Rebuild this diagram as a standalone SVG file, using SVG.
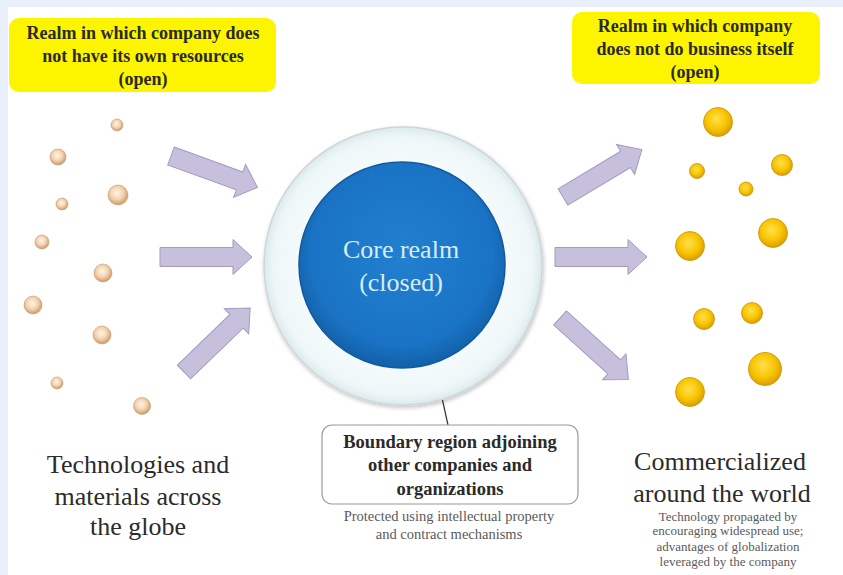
<svg xmlns="http://www.w3.org/2000/svg" width="843" height="575" viewBox="0 0 843 575">
  <style>
    .ylab { font-family: "Liberation Serif", "DejaVu Serif", serif; font-weight: bold; font-size: 18px; fill: #2a2a2a; text-anchor: middle; }
    .big { font-family: "Liberation Serif", "DejaVu Serif", serif; font-size: 26px; fill: #2b2b2b; text-anchor: middle; }
    .small { font-family: "Liberation Serif", "DejaVu Serif", serif; font-size: 14.5px; fill: #5a5a5a; text-anchor: middle; }
    .tiny { font-family: "Liberation Serif", "DejaVu Serif", serif; font-size: 13px; fill: #5a5a5a; text-anchor: middle; }
    .bnd { font-family: "Liberation Serif", "DejaVu Serif", serif; font-weight: bold; font-size: 18.5px; fill: #2a2a2a; text-anchor: middle; }
    .core { font-family: "Liberation Serif", "DejaVu Serif", serif; font-size: 26px; fill: #d8ecf8; text-anchor: middle; }
    .arrow { fill: #c6c0dd; stroke: #a29bc2; stroke-width: 1; }
    .ybox { fill: #fdf500; }
    .bead { fill: url(#gBeige); stroke: #c49a72; stroke-width: 0.6; }
    .gold { fill: url(#gGold); stroke: #c99400; stroke-width: 0.8; }
  </style>
  <defs>
    <path id="arr" d="M0,-9.5 H73 V-17.5 L92,0 L73,17.5 V9.5 H0 Z"/>
    <radialGradient id="gBeige" cx="0.45" cy="0.4" r="0.6">
      <stop offset="0" stop-color="#fff6ea"/>
      <stop offset="0.55" stop-color="#f3d2ad"/>
      <stop offset="1" stop-color="#c9986b"/>
    </radialGradient>
    <radialGradient id="gGold" cx="0.45" cy="0.4" r="0.6">
      <stop offset="0" stop-color="#ffe04a"/>
      <stop offset="0.6" stop-color="#f8c400"/>
      <stop offset="1" stop-color="#d99e00"/>
    </radialGradient>
    <radialGradient id="gRing" cx="0.5" cy="0.5" r="0.5">
      <stop offset="0.7" stop-color="#f6fbfc"/>
      <stop offset="0.93" stop-color="#eef7f8"/>
      <stop offset="1" stop-color="#dbeaec"/>
    </radialGradient>
    <radialGradient id="gCore" cx="0.5" cy="0.45" r="0.55">
      <stop offset="0" stop-color="#2180cf"/>
      <stop offset="0.8" stop-color="#1a73c4"/>
      <stop offset="1" stop-color="#1260a8"/>
    </radialGradient>
    <filter id="sh" x="-10%" y="-10%" width="120%" height="120%">
      <feGaussianBlur in="SourceAlpha" stdDeviation="2"/>
      <feOffset dx="1" dy="2"/>
      <feComponentTransfer><feFuncA type="linear" slope="0.25"/></feComponentTransfer>
      <feMerge><feMergeNode/><feMergeNode in="SourceGraphic"/></feMerge>
    </filter>
  </defs>

  <rect x="0" y="0" width="843" height="575" fill="#e9effb"/>
  <rect x="8" y="7" width="835" height="568" fill="#ffffff"/>

  <g id="label-left">
    <rect class="ybox" x="9" y="18" width="267" height="74" rx="10"/>
    <text class="ylab" x="143" y="39">Realm in which company does</text>
    <text class="ylab" x="143" y="62">not have its own resources</text>
    <text class="ylab" x="143" y="85">(open)</text>
  </g>

  <g id="label-right">
    <rect class="ybox" x="572" y="12" width="248" height="72" rx="10"/>
    <text class="ylab" x="695" y="32">Realm in which company</text>
    <text class="ylab" x="695" y="55">does not do business itself</text>
    <text class="ylab" x="695" y="78">(open)</text>
  </g>

  <g id="materials">
    <circle class="bead" cx="117" cy="125" r="6"/>
    <circle class="bead" cx="58" cy="157" r="8"/>
    <circle class="bead" cx="62" cy="204" r="6"/>
    <circle class="bead" cx="118" cy="195" r="10"/>
    <circle class="bead" cx="42" cy="242" r="7"/>
    <circle class="bead" cx="103" cy="273" r="9"/>
    <circle class="bead" cx="33" cy="305" r="9"/>
    <circle class="bead" cx="102" cy="335" r="9"/>
    <circle class="bead" cx="57" cy="383" r="6"/>
    <circle class="bead" cx="142" cy="406" r="8.5"/>
  </g>

  <g id="markets">
    <circle class="gold" cx="718" cy="122" r="14.5"/>
    <circle class="gold" cx="697" cy="171" r="7.5"/>
    <circle class="gold" cx="782" cy="165" r="10.5"/>
    <circle class="gold" cx="746" cy="189" r="7"/>
    <circle class="gold" cx="690" cy="246" r="14.5"/>
    <circle class="gold" cx="773" cy="233" r="14.5"/>
    <circle class="gold" cx="704" cy="319" r="10.5"/>
    <circle class="gold" cx="752" cy="313" r="10.5"/>
    <circle class="gold" cx="765" cy="369" r="16.5"/>
    <circle class="gold" cx="690" cy="392" r="14.5"/>
  </g>

  <g id="connectors">
    <use href="#arr" class="arrow" transform="translate(171,156) rotate(20)"/>
    <use href="#arr" class="arrow" transform="translate(160,257)"/>
    <use href="#arr" class="arrow" transform="translate(184,372) rotate(-44)"/>
    <use href="#arr" class="arrow" transform="translate(563,197) rotate(-31)"/>
    <use href="#arr" class="arrow" transform="translate(555,257)"/>
    <use href="#arr" class="arrow" transform="translate(560,318) rotate(42)"/>
    <line x1="440" y1="389" x2="448" y2="425" stroke="#333" stroke-width="1.2"/>
  </g>

  <g id="boundary-ring" filter="url(#sh)">
    <circle cx="403" cy="266" r="139" fill="url(#gRing)" stroke="#d0d6d8" stroke-width="1.5"/>
  </g>

  <g id="core">
    <circle cx="402" cy="265" r="103" fill="url(#gCore)" stroke="#115a9e" stroke-width="1.5"/>
    <text class="core" x="401" y="258">Core realm</text>
    <text class="core" x="401" y="291">(closed)</text>
  </g>

  <g id="boundary-label">
    <rect x="322" y="425" width="256" height="79" rx="10" fill="#ffffff" stroke="#9a9a9a" stroke-width="1.2"/>
    <text class="bnd" x="450" y="448">Boundary region adjoining</text>
    <text class="bnd" x="450" y="471">other companies and</text>
    <text class="bnd" x="450" y="495">organizations</text>
    <text class="small" x="449" y="521">Protected using intellectual property</text>
    <text class="small" x="449" y="539">and contract mechanisms</text>
  </g>

  <g id="left-caption">
    <text class="big" x="138" y="473">Technologies and</text>
    <text class="big" x="138" y="505">materials across</text>
    <text class="big" x="138" y="535">the globe</text>
  </g>

  <g id="right-caption">
    <text class="big" x="720" y="470">Commercialized</text>
    <text class="big" x="722" y="502">around the world</text>
    <text class="tiny" x="728" y="521">Technology propagated by</text>
    <text class="tiny" x="728" y="535">encouraging widespread use;</text>
    <text class="tiny" x="728" y="551">advantages of globalization</text>
    <text class="tiny" x="728" y="566">leveraged by the company</text>
  </g>
</svg>
